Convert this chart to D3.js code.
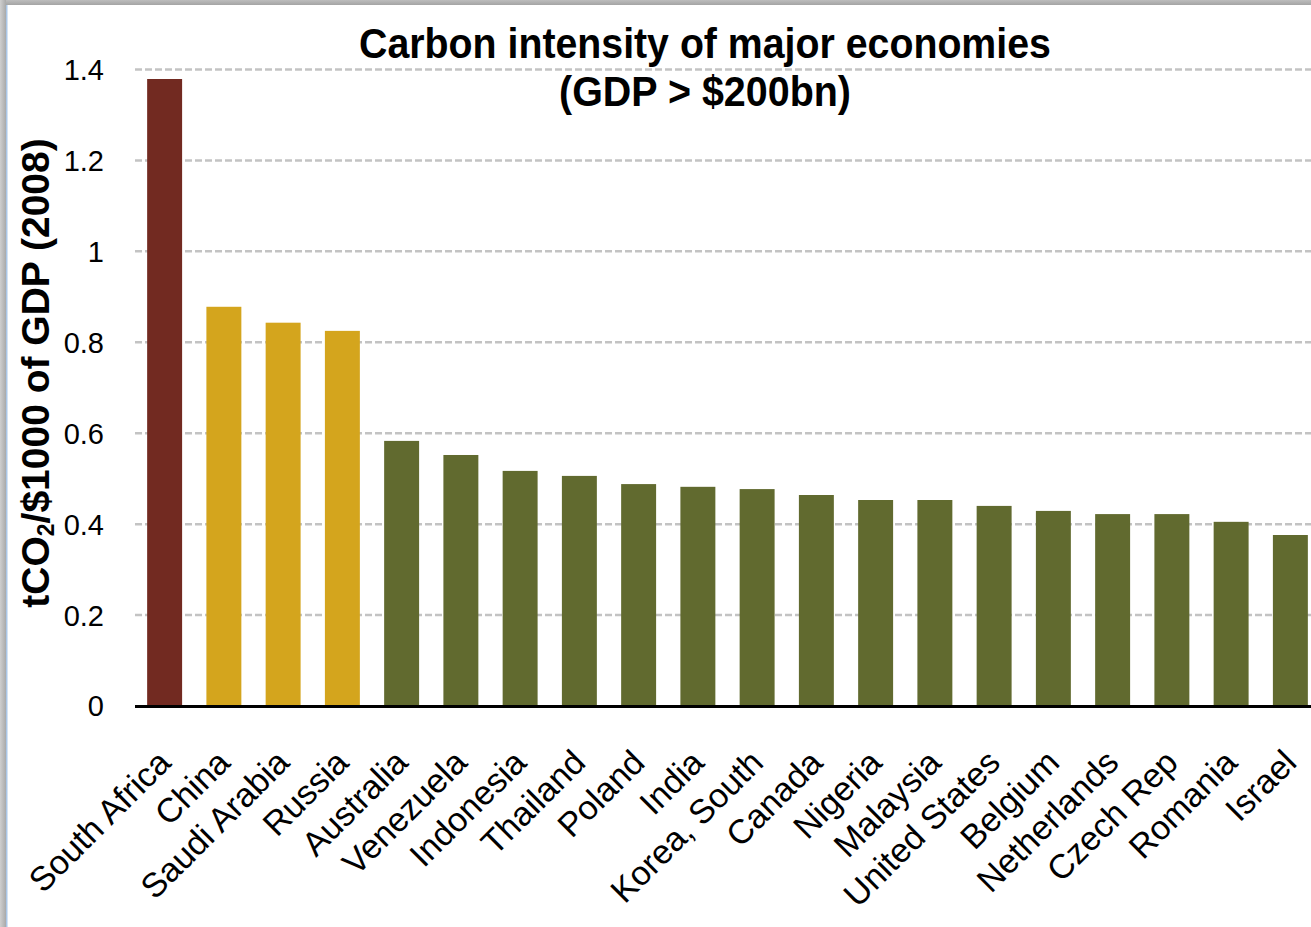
<!DOCTYPE html>
<html>
<head>
<meta charset="utf-8">
<script src="https://cdn.jsdelivr.net/npm/d3@7"></script>
<style>
  html, body { margin: 0; padding: 0; background: #fff; }
  svg { display: block; }
</style>
</head>
<body>
<svg id="chart" width="1311" height="927"></svg>
<script>
// ---- Data ----
const categories = ["South Africa", "China", "Saudi Arabia", "Russia", "Australia", "Venezuela",
  "Indonesia", "Thailand", "Poland", "India", "Korea, South", "Canada", "Nigeria", "Malaysia",
  "United States", "Belgium", "Netherlands", "Czech Rep", "Romania", "Israel"];
const values = [1.378, 0.877, 0.842, 0.824, 0.582, 0.551, 0.516, 0.505, 0.487, 0.481, 0.476,
  0.463, 0.452, 0.452, 0.439, 0.428, 0.421, 0.421, 0.404, 0.375];
const groups = ["top", "high", "high", "high", "mid", "mid", "mid", "mid", "mid", "mid", "mid",
  "mid", "mid", "mid", "mid", "mid", "mid", "mid", "mid", "mid"];
const yTicks = [0, 0.2, 0.4, 0.6, 0.8, 1, 1.2, 1.4];
const titleLines = ["Carbon intensity of major economies", "(GDP > $200bn)"];

const colors = { top: "#722A21", high: "#D4A51D", mid: "#616A2F" };

const svg = d3.select("#chart");
const W = 1311, H = 927;

// frame (window border look)
const defs = svg.append("defs");
const gl = defs.append("linearGradient").attr("id", "gl").attr("x1", 0).attr("x2", 1).attr("y1", 0).attr("y2", 0);
gl.append("stop").attr("offset", "0%").attr("stop-color", "#cfcfcf");
gl.append("stop").attr("offset", "100%").attr("stop-color", "#a9a9a9");
const gt = defs.append("linearGradient").attr("id", "gt").attr("x1", 0).attr("x2", 0).attr("y1", 0).attr("y2", 1);
gt.append("stop").attr("offset", "0%").attr("stop-color", "#bdbdbd");
gt.append("stop").attr("offset", "100%").attr("stop-color", "#a4a4a4");

svg.append("rect").attr("x", 0).attr("y", 0).attr("width", W).attr("height", H).attr("fill", "#fff");

const x = d3.scaleBand().domain(categories).range([135, 1320]).paddingInner(0.41).paddingOuter(0.205);
const y = d3.scaleLinear().domain([0, 1.4]).range([705.5, 69]);

// gridlines
const grid = svg.append("g")
  .attr("transform", "translate(135,0)")
  .call(d3.axisLeft(y).tickValues(yTicks.filter(d => d > 0)).tickSize(-(W - 135)).tickFormat(""));
grid.select(".domain").remove();
grid.selectAll("line").attr("stroke", "#c3c3c3").attr("stroke-width", 2.5).attr("stroke-dasharray", "7,3");

// bars
svg.append("g").selectAll("rect").data(categories).join("rect")
  .attr("x", d => x(d))
  .attr("width", x.bandwidth())
  .attr("y", (d, i) => y(values[i]))
  .attr("height", (d, i) => y(0) - y(values[i]))
  .attr("fill", (d, i) => colors[groups[i]]);

// y axis labels
const ya = svg.append("g").attr("transform", "translate(135,0)")
  .call(d3.axisLeft(y).tickValues(yTicks).tickSize(0).tickPadding(31).tickFormat(d => d3.format("")(d)));
ya.select(".domain").remove();
ya.selectAll("text").attr("font-family", "Arial, 'Liberation Sans', sans-serif").attr("font-size", 29)
  .attr("fill", "#000").attr("dy", "0.36em");

// x axis baseline
svg.append("line").attr("x1", 135).attr("x2", W).attr("y1", y(0) + 1).attr("y2", y(0) + 1)
  .attr("stroke", "#000").attr("stroke-width", 3);

// x labels
const xa = svg.append("g").attr("transform", `translate(0,${y(0)})`)
  .call(d3.axisBottom(x).tickSize(0).tickPadding(0));
xa.select(".domain").remove();
xa.selectAll("text")
  .attr("font-family", "Arial, 'Liberation Sans', sans-serif").attr("font-size", 34).attr("fill", "#000")
  .attr("text-anchor", "end")
  .attr("dy", 0).attr("y", 0)
  .attr("transform", "translate(8,59) rotate(-45)");

// y axis title
const yt = svg.append("text")
  .attr("transform", "translate(49,373) rotate(-90)")
  .attr("text-anchor", "middle")
  .attr("font-family", "Arial, 'Liberation Sans', sans-serif").attr("font-weight", "bold")
  .attr("font-size", 39).attr("fill", "#000");
yt.append("tspan").text("tCO");
yt.append("tspan").text("2").attr("font-size", 23).attr("dy", 5);
yt.append("tspan").text("/$1000 of GDP (2008)").attr("dy", -5);

// title (condensed bold look: scale horizontally to the reference width)
const titleTargets = [692, 292];
const titleBase = [58, 106];
titleLines.forEach((t, i) => {
  const g = svg.append("g");
  const txt = g.append("text").attr("x", 0).attr("y", 0)
    .attr("text-anchor", "middle")
    .attr("font-family", "Arial, 'Liberation Sans', sans-serif")
    .attr("font-weight", "bold").attr("font-size", 43).attr("fill", "#000")
    .text(t);
  const w = txt.node().getComputedTextLength();
  const s = titleTargets[i] / w;
  g.attr("transform", `translate(705,${titleBase[i]}) scale(${s},1)`);
});

// frame edges
svg.append("rect").attr("x", 0).attr("y", 0).attr("width", W).attr("height", 5).attr("fill", "url(#gt)");
svg.append("rect").attr("x", 0).attr("y", 0).attr("width", 6).attr("height", H).attr("fill", "url(#gl)");
svg.append("rect").attr("x", 6).attr("y", 5).attr("width", 1.5).attr("height", H).attr("fill", "#aac6e6");
</script>
</body>
</html>
